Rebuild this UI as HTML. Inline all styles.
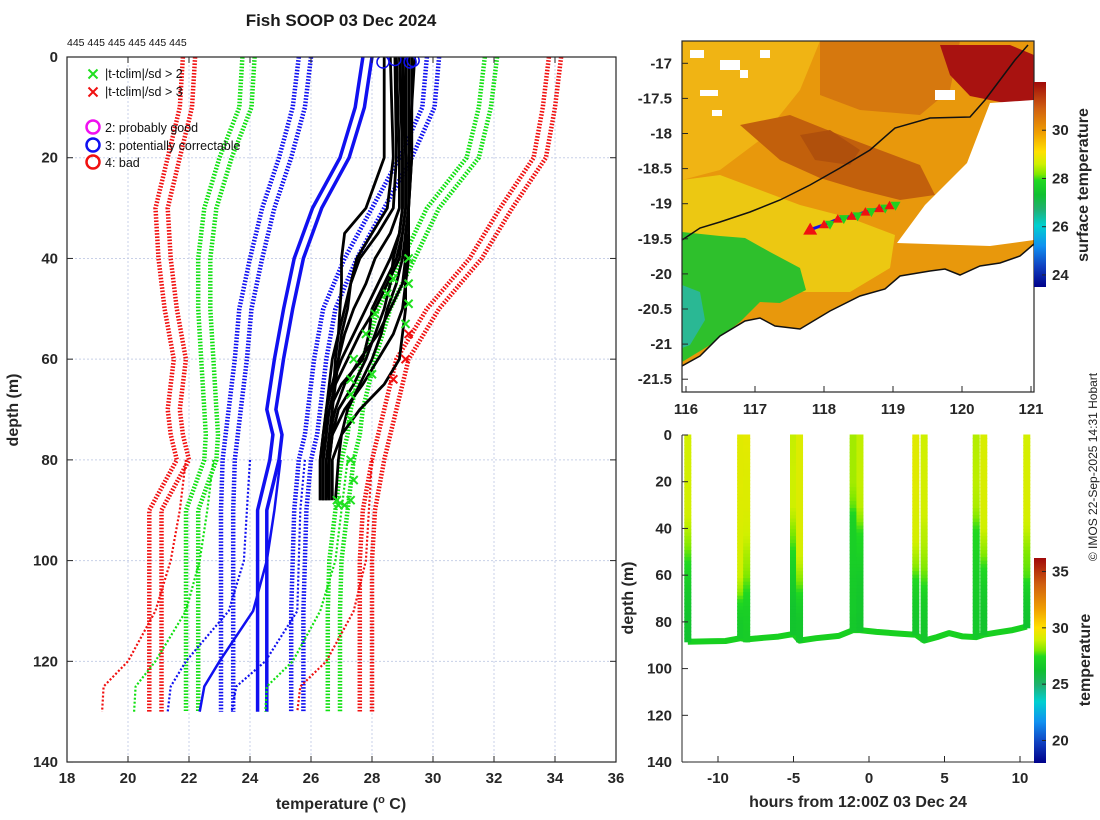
<!DOCTYPE html>
<html><head><meta charset="utf-8">
<style>
html,body{margin:0;padding:0;background:#fff;}
svg{display:block;font-family:"Liberation Sans","DejaVu Sans",sans-serif;}
.tk{font-size:15px;font-weight:bold;fill:#262626;}
.lab{font-size:16px;font-weight:bold;fill:#262626;}
</style></head>
<body>
<svg id="fig" width="1100" height="820" viewBox="0 0 1100 820" xmlns="http://www.w3.org/2000/svg">
<defs>
<linearGradient id="cmap" x1="0" y1="1" x2="0" y2="0">
<stop offset="0" stop-color="#00008a"/><stop offset="0.1" stop-color="#1040c0"/><stop offset="0.2" stop-color="#1090f0"/><stop offset="0.3" stop-color="#00d0d0"/><stop offset="0.38" stop-color="#20b070"/><stop offset="0.45" stop-color="#10c030"/><stop offset="0.52" stop-color="#20d820"/><stop offset="0.55" stop-color="#80e800"/><stop offset="0.6" stop-color="#d0f000"/><stop offset="0.66" stop-color="#ffe000"/><stop offset="0.75" stop-color="#f0a000"/><stop offset="0.87" stop-color="#d06010"/><stop offset="1" stop-color="#a00a0a"/>
</linearGradient>
<clipPath id="mapclip"><rect x="682" y="41" width="352" height="351"/></clipPath>
<clipPath id="leftclip"><rect x="67" y="57" width="549" height="705"/></clipPath>
</defs>
<text x="341" y="26" text-anchor="middle" style="font-size:17px;font-weight:bold" fill="#1a1a1a">Fish SOOP 03 Dec 2024</text>
<text x="67" y="46" style="font-size:10.5px" fill="#111">445 445 445 445 445 445</text>
<g id="left"></g>
<g id="map"></g>
<g id="ts"></g>
<text x="1097" y="467" transform="rotate(-90 1097 467)" text-anchor="middle" style="font-size:12px" fill="#222">© IMOS 22-Sep-2025 14:31 Hobart</text>
</svg>
<script>
// ---------- LEFT PANEL DATA ----------
const climDepths=[0,10,20,30,40,50,60,70,75,80,90,100,110,120,130];
const climRedRight=[34.0,33.8,33.5,32.4,31.4,30.0,29.0,28.6,28.4,28.2,27.9,27.8,27.8,27.8,27.8];
const climGreenRight=[31.9,31.7,31.3,30.0,29.2,28.4,27.9,27.5,27.4,27.2,27.0,26.8,26.75,26.75,26.75];
const climBlueRight=[30.0,29.85,29.1,28.2,27.3,26.6,26.3,26.1,26.0,25.8,25.65,25.6,25.55,25.55,25.55];
const climMean=[27.85,27.6,27.1,26.2,25.6,25.25,24.95,24.7,24.9,24.8,24.4,24.4,24.4,24.4,24.4];
const climBlueLeft=[25.8,25.6,25.15,24.6,24.2,23.85,23.7,23.5,23.4,23.3,23.25,23.25,23.25,23.25,23.25];
const climGreenLeft=[23.95,23.85,23.2,22.7,22.5,22.5,22.6,22.7,22.75,22.7,22.1,22.1,22.1,22.1,22.1];
const climRedLeft=[22.0,21.9,21.5,21.1,21.2,21.4,21.7,21.5,21.6,21.8,20.9,20.9,20.9,20.9,20.9];
const tailDepths=[80,90,100,110,120,125,130];
const tailRedLeft=[21.9,21.7,21.4,20.9,20.0,19.2,19.15];
const tailGreenLeft=[22.8,22.6,22.35,21.9,20.9,20.25,20.2];
const tailBlueLeft=[24.0,23.9,23.8,23.3,21.9,21.4,21.3];
const tailMean=[25.0,24.8,24.55,24.1,23.0,22.5,22.35];
const tailBlueRight=[25.8,25.65,25.6,25.55,24.5,23.55,23.4];
const tailGreenRight=[27.2,27.0,26.8,26.3,25.4,24.55,24.5];
const tailRedRight=[28.0,27.9,27.8,27.4,26.5,25.65,25.55];
const profDepths=[0,20,30,35,40,45,50,55,60,65,70,75,80,88];
const profiles=[
[29.0,29.0,29.0,28.9,28.6,28.2,27.8,27.4,27.0,26.7,26.5,26.4,26.3,26.3],
[29.3,29.3,29.2,29.2,29.1,29.1,29.1,29.0,28.9,28.4,27.6,27.0,26.7,26.7],
[29.4,29.2,29.2,29.1,29.0,28.8,28.5,28.3,28.0,27.6,27.2,27.0,26.9,26.8],
[28.8,28.9,28.9,28.6,28.1,27.8,27.4,27.1,26.9,26.7,26.5,26.4,26.4,26.4],
[29.2,29.2,29.2,29.2,29.2,29.1,29.0,28.7,28.2,27.7,27.1,26.7,26.5,26.5],
[28.4,28.4,27.8,27.1,27.0,27.0,26.95,26.9,26.8,26.75,26.7,26.7,26.6,26.6],
[28.75,28.8,28.7,28.2,27.6,27.3,27.1,26.9,26.7,26.6,26.5,26.5,26.4,26.4],
[29.3,29.3,29.2,29.1,29.1,29.0,28.6,28.2,27.6,27.1,26.8,26.6,26.5,26.5],
[28.9,29.0,29.0,28.9,28.7,28.6,28.4,28.1,27.8,27.4,26.9,26.7,26.6,26.5],
[28.6,28.7,28.5,28.0,27.5,27.3,27.2,27.0,26.9,26.8,26.7,26.6,26.6,26.6],
[29.1,29.1,29.1,29.0,28.9,28.5,28.1,27.6,27.2,26.8,26.6,26.5,26.4,26.4],
[29.0,29.1,29.1,29.0,28.8,28.4,28.0,27.9,27.7,27.0,26.6,26.4,26.3,26.3]];
const flag2Temp=[29.2,28.7,28.5,28.1,27.8,29.2,29.2,29.1,27.4,27.3,28.0,27.3,27.3,27.3,27.4,27.3,26.9,27.1,26.85];
const flag2Depth=[40,44,47,51,55,45,49,53,60,64,63,67,72,80,84,88,89,89,88];
const flag3Temp=[29.2,29.1,28.7];
const flag3Depth=[55,60,64];
const qcTemp=[28.36,28.75,29.25,29.35];
const qcDepth=[1,0.5,1,0.7];
const xTicks=[18,20,22,24,26,28,30,32,34,36];
const yTicks=[0,20,40,60,80,100,120,140];

// ---------- MAP DATA ----------
const lonTicks=[116,117,118,119,120,121];
const latTicks=[-17,-17.5,-18,-18.5,-19,-19.5,-20,-20.5,-21,-21.5];
const trackLon=[117.8,118.0,118.2,118.4,118.6,118.8,118.95];
const trackLat=[-19.37,-19.3,-19.22,-19.18,-19.12,-19.07,-19.03];
const sstTicks=[24,26,28,30];
// ---------- TIME SERIES DATA ----------
const castHours=[-12.0,-8.5,-8.1,-5.0,-4.6,-1.05,-0.6,3.1,3.65,7.1,7.6,10.45];
const castBottom=[88.5,86.5,87.5,85.2,88.0,83.5,83.5,85.5,88.0,86.5,85.5,82.0];
const trackHours=[-12.0,-10.5,-9.5,-8.5,-8.1,-7,-6,-5.0,-4.6,-3.5,-2,-1.05,-0.6,0.5,2,3.1,3.65,4.5,5.3,6.2,7.1,7.6,8.5,9.5,10.45];
const trackDepth=[88.5,88.3,88.2,87.0,87.5,86.8,86.3,85.2,88.0,87.0,86.0,83.5,83.5,84.3,85.0,85.5,88.0,86.5,84.8,86.2,86.5,85.5,84.5,83.5,82.0];
const hourTicks=[-10,-5,0,5,10];
const ts_yTicks=[0,20,40,60,80,100,120,140];
const tempTicks=[20,25,30,35];

const NS='http://www.w3.org/2000/svg';
function mk(tag,attrs,parent){const e=document.createElementNS(NS,tag);for(const k in attrs)e.setAttribute(k,attrs[k]);parent.appendChild(e);return e;}
function txt(s,attrs,parent){const e=mk('text',attrs,parent);e.textContent=s;return e;}
const stops=[[0,[0,0,138]],[0.1,[16,64,192]],[0.2,[16,144,240]],[0.3,[0,208,208]],[0.38,[32,176,112]],[0.45,[16,192,48]],[0.52,[32,216,32]],[0.55,[128,232,0]],[0.6,[208,240,0]],[0.66,[255,224,0]],[0.75,[240,160,0]],[0.87,[208,96,16]],[1,[160,10,10]]];
function cmap(v){v=Math.max(0,Math.min(1,v));for(let i=1;i<stops.length;i++){if(v<=stops[i][0]){const a=stops[i-1],b=stops[i],f=(v-a[0])/(b[0]-a[0]);const c=a[1].map((x,j)=>Math.round(x+(b[1][j]-x)*f));return 'rgb('+c.join(',')+')';}}return 'rgb(160,10,10)';}

// ---------- LEFT PANEL ----------
const L=document.getElementById('left');
const lx=t=>67+(t-18)*30.5, ly=d=>57+d*5.036;
mk('rect',{x:67,y:57,width:549,height:705,fill:'#fff'},L);
xTicks.forEach(t=>{const g=mk('line',{x1:lx(t),x2:lx(t),y1:57,y2:762,stroke:'#c8d0e8','stroke-width':1,'stroke-dasharray':'2,2'},L);

});
yTicks.forEach(d=>{const g=mk('line',{x1:67,x2:616,y1:ly(d),y2:ly(d),stroke:'#c8d0e8','stroke-width':1,'stroke-dasharray':'2,2'},L);

});
const CL=mk('g',{'clip-path':'url(#leftclip)'},L);
function pl(ts,ds,off){return ts.map((t,i)=>lx(t+off).toFixed(1)+','+ly(ds[i]).toFixed(1)).join(' ');}
const climSets=[[climRedRight,'#f01010','clim-plus3sd'],[climGreenRight,'#10e010','clim-plus2sd'],[climBlueRight,'#1010f0','clim-plus1sd'],[climBlueLeft,'#1010f0','clim-minus1sd'],[climGreenLeft,'#10e010','clim-minus2sd'],[climRedLeft,'#f01010','clim-minus3sd']];
climSets.forEach(s=>{[-0.2,0.2].forEach(o=>{const p=mk('polyline',{points:pl(s[0],climDepths,o),fill:'none',stroke:s[1],'stroke-width':4.5,'stroke-dasharray':'1.6,1.6'},CL);

});});
[-0.15,0.15].forEach(o=>{const p=mk('polyline',{points:pl(climMean,climDepths,o),fill:'none',stroke:'#1010f0','stroke-width':3.5},CL);

});
const tails=[[tailRedLeft,'#f01010',1],[tailGreenLeft,'#10e010',1],[tailBlueLeft,'#1010f0',1],[tailMean,'#1010f0',0],[tailBlueRight,'#1010f0',1],[tailGreenRight,'#10e010',1],[tailRedRight,'#f01010',1]];
tails.forEach(s=>{const p=mk('polyline',{points:pl(s[0],tailDepths,0),fill:'none',stroke:s[1],'stroke-width':s[2]?2.2:2.5,'stroke-dasharray':s[2]?'2,2':'none'},CL);

});
profiles.forEach((pr,i)=>{const p=mk('polyline',{points:pl(pr,profDepths,0),fill:'none',stroke:'#000','stroke-width':2.8,'stroke-linejoin':'round'},CL);

});
function xmark(x,y,c,s,par,name){const g=mk('g',{},par);


mk('path',{d:`M${x-s},${y-s}L${x+s},${y+s}M${x-s},${y+s}L${x+s},${y-s}`,stroke:c,'stroke-width':2,fill:'none'},g);}
flag2Temp.forEach((t,i)=>xmark(lx(t),ly(flag2Depth[i]),'#20e020',4,CL,'flag-2sd-marker'));
flag3Temp.forEach((t,i)=>xmark(lx(t),ly(flag3Depth[i]),'#f01010',4,CL,'flag-3sd-marker'));
qcTemp.forEach((t,i)=>{const c=mk('circle',{cx:lx(t),cy:ly(qcDepth[i]),r:6,fill:'none',stroke:'#1010f0','stroke-width':1.5},CL);

});
mk('rect',{x:67,y:57,width:549,height:705,fill:'none',stroke:'#262626','stroke-width':1.2},L);
xTicks.forEach(t=>{mk('line',{x1:lx(t),x2:lx(t),y1:762,y2:756,stroke:'#262626'},L);mk('line',{x1:lx(t),x2:lx(t),y1:57,y2:63,stroke:'#262626'},L);
const e=txt(String(t),{x:lx(t),y:783,'text-anchor':'middle',class:'tk'},L);

});
yTicks.forEach(d=>{mk('line',{x1:67,x2:73,y1:ly(d),y2:ly(d),stroke:'#262626'},L);mk('line',{x1:616,x2:610,y1:ly(d),y2:ly(d),stroke:'#262626'},L);
const e=txt(String(d),{x:58,y:ly(d)+5,'text-anchor':'end',class:'tk'},L);

});
const xt=txt('',{x:341,y:809,'text-anchor':'middle',class:'lab'},L);xt.innerHTML='temperature (<tspan dy="-6" font-size="11">o</tspan><tspan dy="6"> C)</tspan>';


const yt=txt('depth (m)',{x:18,y:410,'text-anchor':'middle',class:'lab',transform:'rotate(-90 18 410)'},L);


// legend
const LG=mk('g',{},L);


xmark(93,74,'#20e020',4.5,LG,'legend-2sd-marker');xmark(93,92,'#f01010',4.5,LG,'legend-3sd-marker');
txt('|t-tclim|/sd > 2',{x:105,y:78,'font-size':12.5,fill:'#111'},LG);
txt('|t-tclim|/sd > 3',{x:105,y:96,'font-size':12.5,fill:'#111'},LG);
[['#f010f0',127,'2: probably good'],['#1010f0',145,'3: potentially correctable'],['#f01010',162,'4: bad']].forEach(a=>{
mk('circle',{cx:93,cy:a[1],r:6.5,fill:'none',stroke:a[0],'stroke-width':2.5},LG);
const e=txt(a[2],{x:105,y:a[1]+5,'font-size':12.5,fill:'#111'},LG);

});

// ---------- MAP PANEL ----------
const M=document.getElementById('map');
const mx=lo=>686+(lo-116)*69, my=la=>63.3+(-17-la)*70.2;
const MC=mk('g',{'clip-path':'url(#mapclip)'},M);
function poly(pts,fill,name){const p=mk('polygon',{points:pts,fill:fill},MC);

return p;}
poly('682,41 1034,41 1034,392 682,392','#e8980c','sst-base');
poly('682,41 820,41 800,90 760,140 720,170 682,180','#f0b414','sst-northwest');
poly('820,41 960,41 950,90 920,115 860,110 820,95','#d6780e','sst-north');
poly('740,125 790,115 840,135 880,150 920,165 935,195 900,200 860,190 820,178 780,160','#c2600c','sst-warm-band');
poly('800,135 830,130 860,150 850,165 815,160','#b0500c','sst-warm-core');
poly('682,180 720,175 760,190 800,205 850,218 895,235 890,268 850,292 800,292 760,262 720,240 682,235','#ecc812','sst-yellow-zone');
poly('682,232 720,236 745,238 770,252 800,268 806,290 780,303 760,302 740,322 710,345 682,362','#2ec02c','sst-cool-zone');
poly('682,285 700,292 705,320 690,345 682,348','#2ab894','sst-coldest');
poly('940,45 1010,45 1034,55 1034,100 1005,103 970,96 950,75','#a81210','sst-hot-patch');
poly('990,103 1034,100 1034,240 990,246 897,243 925,205 967,163','#ffffff','cloud-mask-east');
poly('682,366 700,356 720,336 745,321 760,318 775,326 800,329 830,311 860,296 885,289 900,276 930,271 945,269 960,275 980,266 1000,263 1020,256 1034,244 1034,392 682,392','#ffffff','land-mask');
[[690,50,14,8],[720,60,20,10],[760,50,10,8],[700,90,18,6],[740,70,8,8],[712,110,10,6],[935,90,20,10]].forEach(r=>{const e=mk('rect',{x:r[0],y:r[1],width:r[2],height:r[3],fill:'#fff'},MC);

});
const cont=mk('polyline',{points:'682,240 700,228 720,222 750,212 780,200 810,185 840,168 870,150 895,128 930,118 970,117 985,100 1000,80 1015,60 1028,45',fill:'none',stroke:'#111','stroke-width':1.5},MC);


const coast=mk('polyline',{points:'682,366 700,356 720,336 745,321 760,318 775,326 800,329 830,311 860,296 885,289 900,276 930,271 945,269 960,275 980,266 1000,263 1020,256 1034,244',fill:'none',stroke:'#111','stroke-width':1.5},MC);


const tl=mk('polyline',{points:trackLon.map((lo,i)=>mx(lo)+','+my(trackLat[i])).join(' '),fill:'none',stroke:'#1010f0','stroke-width':3},MC);


trackLon.forEach((lo,i)=>{const x=mx(lo),y=my(trackLat[i]);const s=i==0?7:5;
const a=mk('polygon',{points:`${x-s},${y+s*0.7} ${x+s},${y+s*0.7} ${x},${y-s}`,fill:'#f01010'},MC);


if(i>0){const b=mk('polygon',{points:`${x-5+6},${y-4} ${x+5+6},${y-4} ${x+6},${y+5}`,fill:'#20d020'},MC);

}});
mk('rect',{x:682,y:41,width:352,height:351,fill:'none',stroke:'#262626','stroke-width':1.2},M);
lonTicks.forEach(v=>{mk('line',{x1:mx(v),x2:mx(v),y1:392,y2:386,stroke:'#262626'},M);
const e=txt(String(v),{x:mx(v),y:414,'text-anchor':'middle',class:'tk'},M);

});
latTicks.forEach(v=>{mk('line',{x1:682,x2:688,y1:my(v),y2:my(v),stroke:'#262626'},M);
const e=txt(String(v),{x:672,y:my(v)+5,'text-anchor':'end',class:'tk'},M);

});
const cb1=mk('rect',{x:1034,y:82,width:12,height:205,fill:'url(#cmap)'},M);


const cy1=v=>287-(v-23.5)/(32-23.5)*205;
sstTicks.forEach(v=>{mk('line',{x1:1046,x2:1042,y1:cy1(v),y2:cy1(v),stroke:'#262626'},M);
const e=txt(String(v),{x:1052,y:cy1(v)+5,class:'tk'},M);

});
const st=txt('surface temperature',{x:1088,y:185,'text-anchor':'middle',class:'lab',transform:'rotate(-90 1088 185)'},M);



// ---------- TIME SERIES PANEL ----------
const T=document.getElementById('ts');
const tx=h=>869+h*15.1, ty=d=>435+d*2.336;
const tr=mk('polyline',{points:trackHours.map((h,i)=>tx(h).toFixed(1)+','+ty(trackDepth[i]).toFixed(1)).join(' '),fill:'none',stroke:'#18d020','stroke-width':6,'stroke-linejoin':'round'},T);


function interp(xs,ys,x){if(x<=xs[0])return ys[0];for(let i=1;i<xs.length;i++){if(x<=xs[i]){const f=(x-xs[i-1])/(xs[i]-xs[i-1]);return ys[i-1]+(ys[i]-ys[i-1])*f;}}return ys[ys.length-1];}
castHours.forEach((h,i)=>{const g=mk('g',{},T);


for(let d=0;d<castBottom[i];d+=1.5){const t=interp(profDepths,profiles[i],d);
mk('rect',{x:tx(h)-3.5,y:ty(d)-0.5,width:7,height:4.6,fill:cmap((t-18)/18.2)},g);}});
mk('line',{x1:682,x2:682,y1:435,y2:762,stroke:'#262626'},T);
mk('line',{x1:682,x2:1034,y1:762,y2:762,stroke:'#262626'},T);
hourTicks.forEach(v=>{mk('line',{x1:tx(v),x2:tx(v),y1:762,y2:756,stroke:'#262626'},T);
const e=txt(String(v),{x:tx(v),y:783,'text-anchor':'middle',class:'tk'},T);

});
ts_yTicks.forEach(v=>{mk('line',{x1:682,x2:688,y1:ty(v),y2:ty(v),stroke:'#262626'},T);
const e=txt(String(v),{x:672,y:ty(v)+5,'text-anchor':'end',class:'tk'},T);

});
const cb2=mk('rect',{x:1034,y:558,width:12,height:205,fill:'url(#cmap)'},T);


const cy2=v=>763-(v-18)/(36.2-18)*205;
tempTicks.forEach(v=>{mk('line',{x1:1046,x2:1042,y1:cy2(v),y2:cy2(v),stroke:'#262626'},T);
const e=txt(String(v),{x:1052,y:cy2(v)+5,class:'tk'},T);

});
const ct=txt('temperature',{x:1090,y:660,'text-anchor':'middle',class:'lab',transform:'rotate(-90 1090 660)'},T);


const hx=txt('hours from 12:00Z 03 Dec 24',{x:858,y:807,'text-anchor':'middle',class:'lab'},T);


const dy=txt('depth (m)',{x:633,y:598,'text-anchor':'middle',class:'lab',transform:'rotate(-90 633 598)'},T);


</script>
</body></html>
